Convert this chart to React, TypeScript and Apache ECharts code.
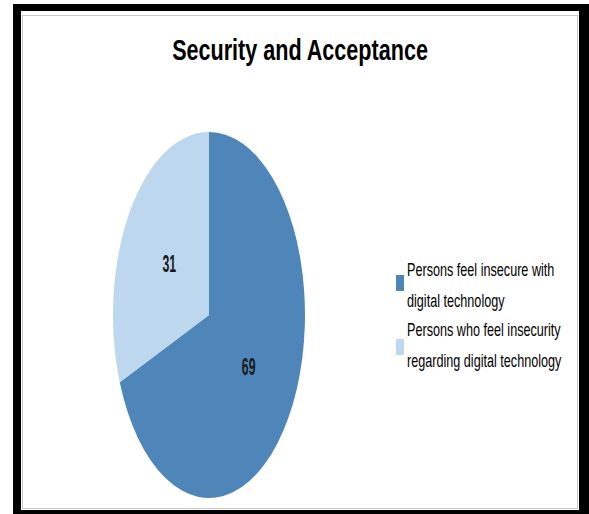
import React, { useEffect, useRef } from "react";
import * as echarts from "echarts";

const titleText = "Security and Acceptance";
const categories = [
  "Persons feel insecure with digital technology",
  "Persons who feel insecurity regarding digital technology",
];
const legendLabels = [
  "Persons feel insecure with\ndigital technology",
  "Persons who feel insecurity\nregarding digital technology",
];
const values = [69, 31];
const colors = ["#4F86BA", "#BDD7EE"];

const FONT = '"Liberation Sans", Arial, sans-serif';

export default function App() {
  const ref = useRef<HTMLDivElement>(null);
  useEffect(() => {
    if (!ref.current) return;
    const chart = echarts.init(ref.current, undefined, { renderer: "svg" });
    const total = values.reduce((a, b) => a + b, 0);
    const cx = 209;
    const cy = 315;
    const rx = 96;
    const ry = 183;
    const R = 100;
    const series = categories.map((name, i) => ({
      type: "custom",
      name,
      coordinateSystem: "none",
      data: [values[i]],
      itemStyle: { color: colors[i] },
      renderItem: (params: any, api: any) => {
        const before = values.slice(0, i).reduce((a, b) => a + b, 0);
        const start = -Math.PI / 2 + (2 * Math.PI * before) / total;
        const end = start + (2 * Math.PI * values[i]) / total;
        const mid = (start + end) / 2;
        const lx = cx + 0.5 * rx * Math.cos(mid);
        const ly = cy + 0.5 * ry * Math.sin(mid);
        return {
          type: "group",
          children: [
            {
              type: "sector",
              x: cx,
              y: cy,
              scaleX: rx / R,
              scaleY: ry / R,
              shape: { cx: 0, cy: 0, r0: 0, r: R, startAngle: start, endAngle: end, clockwise: true },
              style: { fill: api.visual("color") },
            },
            {
              type: "text",
              x: lx,
              y: ly,
              scaleX: 0.82,
              scaleY: 1.55,
              style: {
                text: String(api.value(0)),
                fontFamily: FONT,
                fontSize: 15,
                fontWeight: "bold",
                fill: "#1a1a1a",
                align: "center",
                verticalAlign: "middle",
              },
            },
          ],
        };
      },
    }));

    const legendItems: any[] = [];
    const markerCenters = [283, 347];
    const textCenters = [285, 345];
    categories.forEach((name, i) => {
      legendItems.push({
        type: "rect",
        z: 10,
        shape: { x: 396, y: markerCenters[i] - 8, width: 8, height: 16 },
        style: { fill: colors[i] },
      });
      legendItems.push({
        type: "text",
        z: 10,
        x: 407,
        y: textCenters[i],
        scaleX: 0.79,
        scaleY: 1.13,
        style: {
          text: legendLabels[i],
          font: '16px ' + FONT,
          lineHeight: 27,
          fill: "#000",
          textAlign: "left",
          textVerticalAlign: "middle",
        },
      });
    });

    chart.setOption({
      animation: false,
      graphic: [
        { type: "rect", z: -10, shape: { x: 13, y: 4, width: 576, height: 510 }, style: { fill: "#000" } },
        { type: "rect", z: -9, shape: { x: 21, y: 11, width: 558, height: 499 }, style: { fill: "#fff" } },
        {
          type: "rect",
          z: -8,
          shape: { x: 22.5, y: 15.5, width: 555, height: 493 },
          style: { fill: "#fff", stroke: "#c8c8c8", lineWidth: 1 },
        },
        {
          type: "text",
          z: 10,
          x: 300,
          y: 49.6,
          scaleX: 0.83,
          scaleY: 1.15,
          style: {
            text: titleText,
            font: 'bold 26px ' + FONT,
            fill: "#000",
            textAlign: "center",
            textVerticalAlign: "middle",
          },
        },
        ...legendItems,
      ],
      series,
    });
    return () => chart.dispose();
  }, []);
  return (
    <div
      ref={ref}
      style={{ position: "absolute", left: 0, top: 0, width: 589, height: 514, background: "#fff" }}
    />
  );
}
